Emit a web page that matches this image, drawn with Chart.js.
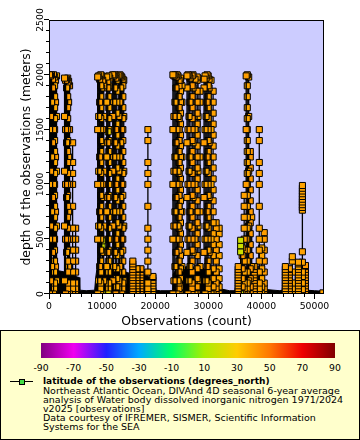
<!DOCTYPE html>
<html>
<head>
<meta charset="utf-8">
<script src="https://cdn.jsdelivr.net/npm/chart.js@4/dist/chart.umd.min.js"></script>
<style>
  body { margin: 0; background: #fff; }
  #page { position: relative; width: 360px; height: 440px; font-family: 'DejaVu Sans', sans-serif; color: #000; }
  #chart { position: absolute; left: 0; top: 0; }
  #legend { position: absolute; left: 0; top: 330px; width: 360px; height: 110px; box-sizing: border-box; border: 1px solid #000; background: #ffffcc; }
  #bar { position: absolute; left: 41px; top: 343px; width: 294px; height: 15px; }
  .cb { position: absolute; top: 363px; font-size: 9.3px; line-height: 10px; white-space: nowrap; transform: translateX(-50%); }
  #markLine { position: absolute; left: 10px; top: 381px; width: 23px; height: 1px; background: #000; }
  #markBox { position: absolute; left: 19px; top: 379px; width: 4px; height: 4px; border: 1px solid #000; background: #44dd44; }
  #ltitle { position: absolute; left: 43px; top: 377px; font-size: 9px; font-weight: bold; line-height: 9.2px; white-space: nowrap; }
  #ltext { position: absolute; left: 43px; top: 386px; font-size: 9.5px; line-height: 9.1px; white-space: nowrap; }
</style>
</head>
<body>
<div id="page">
  <canvas id="chart" width="360" height="330"></canvas>
  <div id="legend"></div>
  <div id="bar"></div>
  <div id="markLine"></div>
  <div id="markBox"></div>
  <div id="ltitle">latitude of the observations (degrees_north)</div>
  <div id="ltext">Northeast Atlantic Ocean, DIVAnd 4D seasonal 6-year average<br>analysis of Water body dissolved inorganic nitrogen 1971/2024<br>v2025 [observations]<br>Data courtesy of IFREMER, SISMER, Scientific Information<br>Systems for the SEA</div>
</div>
<script>
// axes
const X_MAX = 51800
const Y_MAX = 2500
const xTicks = [0, 10000, 20000, 30000, 40000, 50000]
const yTicks = [0, 500, 1000, 1500, 2000, 2500]
const colorbarTicks = [-90, -70, -50, -30, -10, 10, 30, 50, 70, 90]

// sampling levels (m) seen along the casts
const levStd = [0, 50, 100, 200, 300, 400, 500, 600, 700, 800, 900, 1000, 1100, 1200, 1300, 1400, 1500, 1600, 1700, 1800, 1900, 2000]
const levCtd = [2, 65, 140, 230, 350, 450, 550, 650, 750, 850, 950, 1050, 1150, 1250, 1350, 1450, 1550, 1650, 1750, 1850, 1950]
const levSparse = [0, 20, 50, 100, 200, 300, 400, 500, 600, 800, 1000, 1100, 1200, 1400, 1500]
const levShallow = [0, 10, 20, 30, 50, 75, 100, 125, 150, 175, 200, 225, 250, 275, 300]
const levStack = [0, 40, 100, 160, 200, 290, 385, 765, 790, 815, 840, 865, 890, 915, 940, 965, 990]
const levA = [0, 500, 1000, 1500]
const levB = [120, 620, 1120, 1620]
const levC = [250, 750, 1250, 1750]
const levD = [380, 880, 1380, 1880]
const levFew = [0, 385, 440]
const levTop = [0]
const levelSets = [levStd, levCtd, levSparse, levShallow, levStack, levA, levB, levC, levD, levFew, levTop]

// casts: first observation index, deepest depth (m), latitude, level set
const castObs = [
    95, 284, 473, 662, 850, 1040, 1230, 1420, 2930, 3120, 3310, 3500, 3690, 3870, 4440, 5010,
    9170, 9360, 9540, 9730, 9920, 10020, 10110, 10300, 10870, 11060, 11150, 11250, 11440,
    12000, 12190, 12380, 12570, 12760, 13140, 13330, 13510, 13700, 13890, 14080,
    15780, 16540, 17290, 18620, 19560,
    23340, 23530, 23720, 23910, 24100, 24290, 24480, 24760, 25040,
    25990, 26180, 26370, 26550, 26930, 27120, 27500, 27880, 28070, 28440,
    29200, 29390, 29580, 29770, 29960, 30150, 30520, 30900, 31470, 32040,
    35630, 36100, 36380, 36760, 37140, 37330, 37610, 37900, 38180, 38650, 39600, 40070, 40540,
    44510, 45260, 45830, 46970, 47720, 48290, 51600
]
const castBottom = [
    2000, 1990, 2000, 1960, 2000, 1980, 1950, 1990, 1970, 1950, 1960, 1970, 1940, 1900, 1380, 600,
    1980, 1990, 1960, 2000, 1990, 485, 1950, 1900, 1980, 1940, 1480, 1990, 1970,
    2000, 1990, 2000, 1970, 1980, 1990, 2000, 1990, 1980, 1960, 1950,
    300, 230, 230, 1500, 160,
    2000, 1990, 2000, 1980, 2000, 1990, 1950, 1970, 1900,
    1990, 2000, 1990, 1970, 1990, 2000, 1960, 1980, 1970, 1850,
    1960, 1990, 1970, 2000, 1990, 1960, 1950, 1850, 650, 600,
    250, 490, 420, 900, 1990, 2000, 1980, 1300, 700, 250, 1500, 420, 560,
    250, 230, 340, 290, 990, 260, 10
]
const castLat = [
    40, 41, 39, 42, 40, 38, 41, 37, 40, 42, 39, 41, 40, 43, 40, 41,
    40, 38, 41, 39, 40, 18, 42, 40, 39, 41, 27, 38, 40,
    41, 39, 40, 43, 38, 40, 41, 39, 42, 40, 38,
    41, 40, 42, 40, 39,
    40, 41, 39, 42, 40, 38, 41, 40, 39,
    40, 41, 38, 40, 42, 39, 40, 41, 38, 40,
    41, 40, 39, 42, 40, 41, 38, 40, 41, 39,
    40, 18, 41, 40, 41, 39, 40, 42, 40, 41, 40, 39, 41,
    40, 41, 39, 40, 40, 42, 40
]
const castSet = [
    5, 6, 7, 8, 5, 0, 7, 6, 6, 5, 8, 0, 7, 5, 2, 2,
    5, 6, 7, 0, 8, 9, 5, 6, 7, 8, 10, 0, 5,
    6, 7, 8, 5, 1, 6, 7, 8, 5, 0, 6,
    3, 3, 3, 2, 3,
    5, 6, 7, 8, 5, 6, 0, 1, 7,
    8, 5, 6, 7, 0, 8, 5, 1, 6, 7,
    8, 5, 6, 7, 0, 8, 5, 1, 0, 1,
    3, 9, 1, 0, 5, 0, 6, 1, 7, 3, 2, 1, 0,
    3, 3, 0, 3, 4, 3, 3
]

// top of the mass of shallow casts near the surface
const shallowObs = [
    0, 1400, 2000, 3000, 4000, 5000, 5700, 5800, 7000, 8600,
    8800, 9000, 10000, 12000, 14000, 14500, 15000, 15500, 16500, 17500,
    18200, 19000, 19900, 20000, 21000, 23300, 23400, 24000, 26000, 28000,
    30000, 31000, 32000, 32500, 34000, 35500, 35700, 36500, 37000, 38500,
    39000, 39500, 40500, 41000, 43500, 44000, 44200, 45000, 45800, 46000,
    46300, 46500, 47500, 48200, 48400, 50000, 51800
]
const shallowDepth = [
    250, 230, 210, 200, 190, 160, 150, 35, 30, 35,
    150, 220, 250, 260, 240, 200, 190, 230, 220, 210,
    170, 150, 140, 35, 30, 30, 180, 230, 250, 240,
    230, 220, 200, 45, 30, 30, 200, 300, 240, 220,
    200, 150, 140, 40, 30, 35, 220, 250, 240, 35,
    30, 280, 290, 200, 35, 30, 25
]

// latitude colour scale
const palLat = [-90, -70, -50, -30, -10, 10, 30, 50, 70, 90]
const palRgb = [[128, 0, 128], [240, 0, 240], [32, 32, 255], [0, 170, 255], [0, 255, 100],
    [170, 238, 0], [255, 204, 0], [255, 119, 0], [238, 0, 0], [128, 0, 0]]

function latColor(lat) {
    let i = 0
    while (i < palLat.length - 2 && lat > palLat[i + 1]) i++
    const t = Math.min(1, Math.max(0, (lat - palLat[i]) / (palLat[i + 1] - palLat[i])))
    const c = palRgb[i].map((v, k) => Math.round(v + (palRgb[i + 1][k] - v) * t))
    return 'rgb(' + c.join(',') + ')'
}

// colour bar of the legend
document.getElementById('bar').style.background = 'linear-gradient(to right,' +
    palRgb.map((c, i) => 'rgb(' + c.join(',') + ') ' + ((palLat[i] + 90) / 180 * 100) + '%').join(',') + ')'
colorbarTicks.forEach(t => {
    const d = document.createElement('div')
    d.className = 'cb'
    d.style.left = (41 + (t + 90) / 180 * 294) + 'px'
    d.textContent = t
    document.getElementById('page').appendChild(d)
})

const datasets = [{
    data: shallowObs.map((x, i) => ({x: x, y: shallowDepth[i]})),
    showLine: true,
    fill: 'origin',
    borderColor: '#000',
    backgroundColor: '#000',
    borderWidth: 1,
    pointRadius: 0,
    order: 2
}]
castObs.forEach((obs, i) => {
    const levels = levelSets[castSet[i]].filter(d => d < castBottom[i]).concat(castBottom[i])
    datasets.push({
        data: levels.map((d, k) => ({x: obs + k, y: d})),
        showLine: true,
        borderColor: '#000',
        borderWidth: 1.3,
        pointStyle: 'rect',
        pointRadius: 4.3,
        pointBackgroundColor: latColor(castLat[i]),
        pointBorderColor: '#000',
        pointBorderWidth: 1,
        order: 1
    })
})

const FONT = '"DejaVu Sans", sans-serif'

const axesPlugin = {
    id: 'axesPlugin',
    beforeDatasetsDraw(chart) {
        const {ctx, chartArea: a} = chart
        ctx.save()
        ctx.fillStyle = '#ccccff'
        ctx.fillRect(a.left, a.top, a.right - a.left, a.bottom - a.top)
        ctx.restore()
    },
    afterDraw(chart) {
        const {ctx, chartArea: a} = chart
        const x = chart.scales.x, y = chart.scales.y
        ctx.save()
        ctx.strokeStyle = '#000'
        ctx.lineWidth = 1
        ctx.strokeRect(a.left + 0.5, a.top + 0.5, a.right - a.left - 1, a.bottom - a.top - 1)

        ctx.beginPath()
        for (let v = 0; v <= X_MAX; v += 2000) {
            const px = Math.round(x.getPixelForValue(v)) + 0.5
            ctx.moveTo(px, a.bottom)
            ctx.lineTo(px, a.bottom + (v % 10000 === 0 ? 5 : 3))
        }
        for (let v = 0; v <= Y_MAX; v += 100) {
            const py = Math.round(y.getPixelForValue(v)) - 0.5
            ctx.moveTo(a.left, py)
            ctx.lineTo(a.left - (v % 500 === 0 ? 5 : 3), py)
        }
        ctx.stroke()

        ctx.fillStyle = '#000'
        ctx.font = '9.3px ' + FONT
        ctx.textAlign = 'center'
        ctx.textBaseline = 'alphabetic'
        xTicks.forEach(v => ctx.fillText(String(v), x.getPixelForValue(v), 309))
        yTicks.forEach(v => {
            ctx.save()
            ctx.translate(42.5, y.getPixelForValue(v))
            ctx.rotate(-Math.PI / 2)
            ctx.fillText(String(v), 0, 0)
            ctx.restore()
        })

        ctx.font = '12.4px ' + FONT
        ctx.fillText('Observations (count)', (a.left + a.right) / 2, 325)
        ctx.save()
        ctx.translate(29.5, (a.top + a.bottom) / 2)
        ctx.rotate(-Math.PI / 2)
        ctx.fillText('depth of the observations (meters)', 0, 0)
        ctx.restore()
        ctx.restore()
    }
}

new Chart(document.getElementById('chart'), {
    type: 'scatter',
    data: {datasets: datasets},
    options: {
        responsive: false,
        animation: false,
        events: [],
        layout: {padding: {left: 49, top: 20, right: 36, bottom: 36}},
        scales: {
            x: {type: 'linear', min: 0, max: X_MAX, display: false},
            y: {type: 'linear', min: 0, max: Y_MAX, display: false}
        },
        plugins: {legend: {display: false}, tooltip: {enabled: false}}
    },
    plugins: [axesPlugin]
})
</script>
</body>
</html>
